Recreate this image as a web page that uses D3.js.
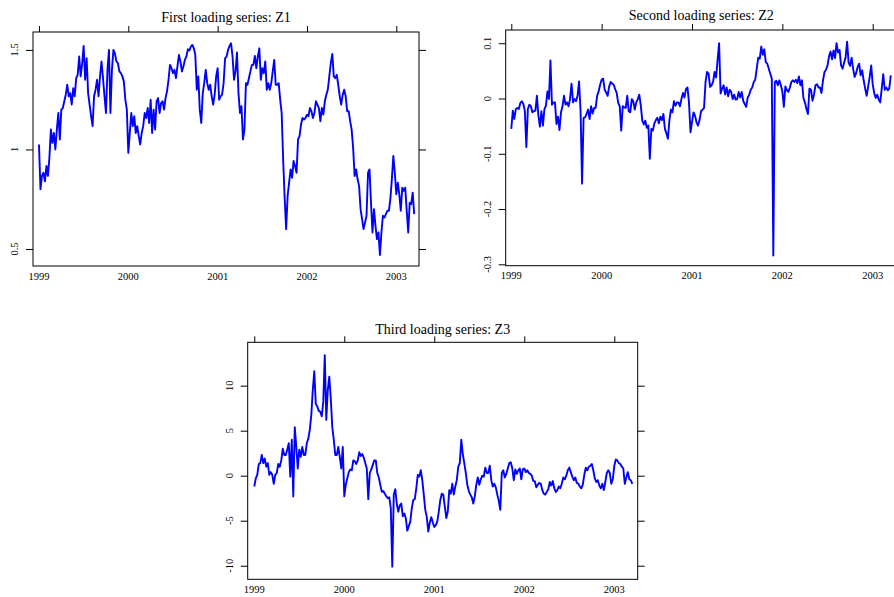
<!DOCTYPE html>
<html>
<head>
<meta charset="utf-8">
<script src="https://cdn.jsdelivr.net/npm/d3@7"></script>
<style>
  body { margin: 0; background: #fff; }
  text { font-family: "Liberation Serif", "Times New Roman", serif; fill: #000; }
</style>
</head>
<body>
<div id="chart"></div>
<script>
// sampling grid of the series: one value every 1/60 of a year from 1999.0
const startYear = 1999;
const stepYear = 1 / 60;

const yearTicks = [1999, 2000, 2001, 2002, 2003];

const z1Ticks = [0.5, 1, 1.5];
const z1TickLabels = ["0.5", "1", "1.5"];
const z2Ticks = [-0.3, -0.2, -0.1, 0, 0.1];
const z2TickLabels = ["-0.3", "-0.2", "-0.1", "0", "0.1"];
const z3Ticks = [-10, -5, 0, 5, 10];
const z3TickLabels = ["-10", "-5", "0", "5", "10"];

const z1Values = [
  1.025,0.80,0.867,0.883,0.84,0.917,0.867,0.958,1.10,1.033,
  1.083,1.0,1.10,1.183,1.05,1.20,1.208,1.242,1.275,1.325,
  1.267,1.283,1.225,1.308,1.267,1.358,1.375,1.467,1.367,1.433,
  1.52,1.35,1.458,1.283,1.225,1.167,1.117,1.267,1.30,1.35,
  1.267,1.367,1.442,1.358,1.267,1.183,1.40,1.50,1.183,1.40,
  1.50,1.483,1.442,1.433,1.392,1.383,1.367,1.342,1.25,1.20,
  0.983,1.083,1.183,1.117,1.167,1.083,1.117,1.067,1.025,1.083,
  1.117,1.183,1.158,1.208,1.133,1.25,1.083,1.20,1.10,1.242,
  1.258,1.183,1.233,1.242,1.20,1.258,1.292,1.35,1.425,1.408,
  1.383,1.40,1.358,1.417,1.475,1.442,1.392,1.417,1.45,1.467,
  1.503,1.497,1.517,1.525,1.508,1.475,1.30,1.367,1.20,1.133,
  1.283,1.333,1.40,1.333,1.30,1.325,1.267,1.225,1.275,1.367,
  1.408,1.25,1.267,1.275,1.333,1.458,1.467,1.50,1.52,1.533,
  1.467,1.35,1.392,1.487,1.283,1.183,1.217,1.05,1.10,1.333,
  1.325,1.358,1.392,1.425,1.425,1.47,1.408,1.467,1.508,1.35,
  1.408,1.383,1.442,1.30,1.333,1.30,1.333,1.392,1.45,1.325,
  1.325,1.333,1.25,1.183,0.95,0.758,0.60,0.767,0.833,0.90,
  0.858,0.942,0.917,0.883,1.05,1.067,1.125,1.158,1.15,1.158,
  1.175,1.167,1.208,1.192,1.158,1.183,1.242,1.225,1.208,1.142,
  1.208,1.175,1.242,1.275,1.30,1.367,1.433,1.48,1.367,1.358,
  1.375,1.325,1.267,1.225,1.275,1.30,1.267,1.192,1.192,1.142,
  1.10,1.008,0.867,0.90,0.85,0.817,0.70,0.65,0.60,0.633,
  0.667,0.883,0.90,0.733,0.583,0.70,0.617,0.55,0.583,0.47,
  0.583,0.667,0.658,0.675,0.692,0.692,0.75,0.85,0.967,0.883,
  0.775,0.833,0.775,0.692,0.808,0.792,0.808,0.692,0.583,0.733,
  0.725,0.783,0.675
];

const z2Values = [
  -0.055,-0.022,-0.037,-0.019,-0.017,-0.019,-0.008,-0.005,-0.010,-0.022,
  -0.088,-0.019,-0.011,-0.014,-0.025,-0.023,-0.022,0.005,-0.031,-0.051,
  -0.023,-0.049,-0.019,-0.013,0.013,-0.001,0.069,-0.011,-0.007,-0.007,
  -0.046,-0.033,-0.057,-0.025,-0.014,0.005,-0.011,-0.007,-0.014,-0.001,
  0.027,-0.007,-0.001,-0.005,0.005,0.031,-0.022,-0.154,-0.035,-0.034,
  -0.028,-0.020,-0.037,-0.014,-0.027,-0.017,-0.017,0.005,0.013,0.025,
  0.034,0.036,0.016,0.011,0.005,0.022,0.030,0.027,0.025,0.017,
  0.010,-0.008,-0.014,-0.058,-0.014,-0.016,-0.017,0.005,-0.023,-0.025,
  -0.001,-0.005,-0.020,-0.007,-0.001,0.007,-0.013,-0.040,-0.047,-0.040,
  -0.053,-0.049,-0.109,-0.055,-0.058,-0.045,-0.039,-0.035,-0.045,-0.033,
  -0.039,-0.028,-0.055,-0.063,-0.073,-0.039,-0.020,-0.025,-0.005,-0.013,
  -0.007,-0.007,-0.014,-0.001,0.010,0.002,0.017,0.020,-0.007,-0.061,
  -0.043,-0.025,-0.031,-0.043,-0.049,-0.039,-0.023,-0.020,-0.017,
  0.030,0.048,0.045,0.021,0.024,0.030,0.048,0.038,0.070,0.100,
  0.009,0.018,0.024,0.007,0.020,0.004,0.016,0.012,-0.001,0.007,
  -0.002,-0.001,0.012,0.002,0.012,-0.004,-0.010,-0.015,0.002,0.007,
  0.016,0.020,0.030,0.034,0.054,0.074,0.072,0.094,0.079,0.089,
  0.066,0.063,0.054,0.045,0.036,-0.284,0.030,0.032,0.024,0.033,
  0.024,0.013,-0.015,0.022,0.015,0.012,0.020,0.030,0.033,0.030,
  0.034,0.028,0.040,0.024,0.033,0.001,-0.007,-0.019,-0.028,0.018,
  0.016,-0.004,0.007,0.024,0.026,0.020,0.020,0.010,0.033,0.048,
  0.052,0.060,0.076,0.085,0.071,0.087,0.073,0.100,0.083,0.088,
  0.060,0.054,0.065,0.074,0.103,0.065,0.059,0.074,0.054,0.039,
  0.046,0.057,0.063,0.042,0.051,0.033,0.018,0.005,0.022,0.039,
  0.060,0.026,0.010,0.001,0.007,-0.002,-0.007,0.018,0.044,0.016,
  0.020,0.015,0.018,0.042
];

const z3Values = [
  -1.2,-0.3,0.1,1.3,1.4,2.3,1.4,1.9,1.0,1.4,
  0.1,0.4,0.1,-0.9,0.1,0.3,1.3,1.0,1.7,3.0,
  2.3,2.3,2.9,3.6,-0.1,4.0,-2.3,5.4,3.2,0.8,
  2.9,2.1,3.2,2.3,2.3,3.6,4.1,5.1,6.7,9.5,
  11.6,8.0,7.7,7.2,7.1,6.6,8.2,13.4,6.2,9.5,
  11.0,8.6,5.4,4.0,2.3,2.3,3.2,2.1,0.8,3.2,
  -2.3,-1.0,-0.3,0.4,0.7,0.6,1.7,1.6,1.3,1.7,
  2.6,2.2,2.4,2.0,1.4,0.8,-2.6,0.3,0.7,1.2,
  1.7,1.7,0.3,-0.2,-1.0,-1.8,-1.7,-2.0,-2.3,-2.5,
  -2.4,-3.6,-10.1,-2.1,-1.5,-3.1,-4.0,-3.3,-3.1,-4.5,
  -4.2,-4.7,-6.1,-5.6,-5.1,-3.6,-2.7,-2.6,-1.4,0.1,
  -0.1,0.6,-0.5,-2.1,-3.8,-4.6,-6.2,-5.2,-4.6,-5.2,
  -5.7,-5.5,-5.1,-4.0,-2.7,-2.0,-2.1,
  -3.4,-4.7,-4.0,-1.6,-2.0,-0.9,-2.1,-1.2,-0.5,1.0,
  1.4,4.0,2.4,1.4,0.3,-1.0,-1.7,-2.1,-2.4,-3.1,
  -2.3,-1.0,-0.2,-1.0,-0.4,0.0,-0.1,0.9,0.3,0.3,
  1.1,-0.5,-1.2,-0.9,-1.3,-2.1,-2.8,-3.8,0.3,0.6,
  -0.2,0.2,0.8,1.4,1.5,0.8,-0.5,0.7,0.2,0.6,
  0.8,-0.4,0.7,0.8,0.4,0.6,0.3,0.2,0.0,-0.6,
  -0.6,-1.3,-1.0,-0.8,-0.9,-1.6,-2.0,-2.1,-1.8,-1.5,
  -0.7,-1.1,-0.6,-1.4,-1.8,-1.6,-1.2,-1.4,-0.9,-0.2,
  -0.4,0.0,0.6,0.9,0.4,-0.1,-0.5,-0.2,-0.8,-0.9,
  -1.2,-1.4,-1.0,0.1,0.9,0.6,1.0,1.1,1.3,0.6,
  -0.3,-0.7,-0.5,-1.1,-1.4,-0.9,-1.6,-0.7,0.3,0.6,
  0.3,-0.9,-0.4,1.1,1.8,1.7,1.4,1.3,1.0,0.8,
  -0.9,-0.2,0.4,-0.4,-0.5,-0.9
];

const panels = [
  { title: "First loading series: Z1", values: z1Values, ticks: z1Ticks, labels: z1TickLabels,
    left: 33, top: 32, right: 419, bottom: 266, xDomain: [1998.933, 2003.254], yDomain: [0.4146, 1.590], titleY: 22 },
  { title: "Second loading series: Z2", values: z2Values, ticks: z2Ticks, labels: z2TickLabels,
    left: 505.7, top: 30, right: 897, bottom: 265.7, xDomain: [1998.938, 2003.269], yDomain: [-0.3025, 0.124], titleY: 20 },
  { title: "Third loading series: Z3", values: z3Values, ticks: z3Ticks, labels: z3TickLabels,
    left: 247.7, top: 342.3, right: 637.7, bottom: 579.3, xDomain: [1998.927, 2003.26], yDomain: [-11.51, 14.82], titleY: 334 }
];

const svg = d3.select("#chart")
  .append("svg")
  .attr("width", 894)
  .attr("height", 597)
  .style("background", "#fff");

panels.forEach(p => {
  const x = d3.scaleLinear().domain(p.xDomain).range([p.left, p.right]);
  const y = d3.scaleLinear().domain(p.yDomain).range([p.bottom, p.top]);
  const g = svg.append("g");

  // frame
  g.append("rect")
    .attr("x", p.left).attr("y", p.top)
    .attr("width", p.right - p.left).attr("height", p.bottom - p.top)
    .attr("fill", "none").attr("stroke", "#000").attr("stroke-width", 1);

  // ticks on all sides, labels only left and bottom
  g.append("g").attr("transform", `translate(0,${p.top})`)
    .call(d3.axisTop(x).tickValues(yearTicks).tickSize(6).tickFormat(""))
    .call(a => a.select(".domain").remove());
  g.append("g").attr("transform", `translate(${p.right},0)`)
    .call(d3.axisRight(y).tickValues(p.ticks).tickSize(7).tickFormat(""))
    .call(a => a.select(".domain").remove());
  g.append("g").attr("transform", `translate(${p.left},0)`)
    .call(d3.axisLeft(y).tickValues(p.ticks).tickSize(7).tickFormat(""))
    .call(a => a.select(".domain").remove());

  g.selectAll(".ylab")
    .data(p.ticks)
    .enter().append("text")
    .attr("transform", d => `translate(${p.left - 15},${y(d)}) rotate(-90)`)
    .attr("text-anchor", "middle")
    .style("font-size", "10.5px")
    .text((d, i) => p.labels[i]);

  g.selectAll(".xlab")
    .data(yearTicks)
    .enter().append("text")
    .attr("x", d => x(d))
    .attr("y", p.bottom + 13.5)
    .attr("text-anchor", "middle")
    .style("font-size", "10.5px")
    .text(d => d);

  // series
  const line = d3.line()
    .x((d, i) => x(startYear + i * stepYear))
    .y(d => y(d));

  g.append("path")
    .attr("d", line(p.values))
    .attr("fill", "none")
    .attr("stroke", "#0000ff")
    .attr("stroke-width", 1.9)
    .attr("stroke-linejoin", "round");

  // title
  g.append("text")
    .attr("x", (p.left + p.right) / 2)
    .attr("y", p.titleY)
    .attr("text-anchor", "middle")
    .style("font-size", "14px")
    .text(p.title);
});
</script>
</body>
</html>
